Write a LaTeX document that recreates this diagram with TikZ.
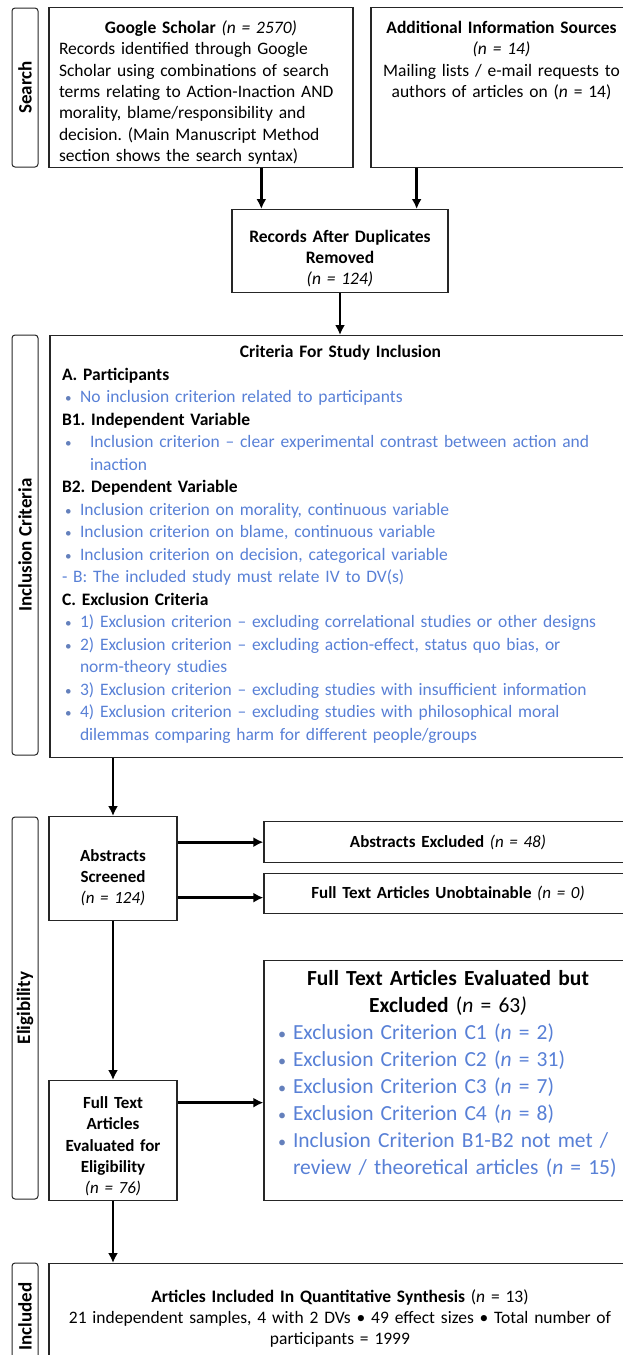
\documentclass[tikz,border=0pt]{standalone}
\usepackage{fontspec}
\setmainfont{Carlito}
\usepackage{tikz}
\usetikzlibrary{arrows.meta,positioning,calc}
\definecolor{critblue}{RGB}{88,128,214}
\newcommand{\bul}[1][18pt]{\makebox[#1][l]{\hspace{3pt}\textcolor{critblue!70!gray}{\scalebox{0.75}{\textbullet}}}}
\frenchspacing

\begin{document}
\begin{tikzpicture}[x=1pt, y=-1pt, >={Latex[length=10pt,width=10pt]},
	box/.style={draw=black!85, line width=1.3pt, anchor=north, inner ysep=0pt},
	stage/.style={draw=black!85, line width=1pt, rounded corners=3pt, rotate=90, minimum height=26pt, inner sep=0pt, font=\fontsize{19}{19}\selectfont\bfseries},
	flow/.style={->, line width=2.7pt}]
	\useasboundingbox (0,0) rectangle (623,1355);
	\clip (0,0) rectangle (623,1355);
	\node[stage, minimum width=159pt] (lsearch) at (25,87.5) {Search};
	\node[stage, minimum width=420pt] (lincl) at (25,545) {Inclusion Criteria};
	\node[stage, minimum width=382pt] (lelig) at (25,1008) {Eligibility};
	\node[stage, minimum width=107pt] (linc) at (25,1316.5) {Included};
	\node[box, text width=284pt, inner xsep=10pt, text height=26pt, text depth=134pt, align=left, font=\fontsize{17.5}{21.3}\selectfont] (gs) at (201,7) {{\centering\textbf{Google Scholar} \textit{(n = 2570)}\par}Records identified through Google\\Scholar using combinations of search\\terms relating to Action-Inaction AND\\morality, blame/responsibility and\\decision. (Main Manuscript Method\\section shows the search syntax)};
	\node[box, text width=241pt, inner xsep=10pt, text height=26pt, text depth=134pt, align=center, font=\fontsize{17.5}{21.3}\selectfont] (ais) at (501.5,7) {\textbf{Additional Information Sources}\\\textit{(n = 14)}\\Mailing lists / e-mail requests to\\authors of articles on (\textit{n} = 14)};
	\node[box, text width=206pt, inner xsep=5pt, text height=33pt, text depth=50pt, align=center, font=\fontsize{17.5}{21}\selectfont\bfseries] (rec) at (340,209) {Records After Duplicates\\Removed\\\mdseries\textit{(n = 124)}};
	\node[box, text width=557pt, inner xsep=12pt, text height=22pt, text depth=400pt, align=left, font=\fontsize{17.5}{22.5}\selectfont] (crit) at (340.5,335) {{\centering\textbf{Criteria For Study Inclusion}\par}
		\textbf{A. Participants}\\
		\textcolor{critblue}{\bul No inclusion criterion related to participants}\\
		\textbf{B1. Independent Variable}\\
		\textcolor{critblue}{\bul[28pt]Inclusion criterion -- clear experimental contrast between action and}\\
		\textcolor{critblue}{\hspace*{28pt}inaction}\\
		\textbf{B2. Dependent Variable}\\
		\textcolor{critblue}{\bul Inclusion criterion on morality, continuous variable}\\
		\textcolor{critblue}{\bul Inclusion criterion on blame, continuous variable}\\
		\textcolor{critblue}{\bul Inclusion criterion on decision, categorical variable}\\
		\textcolor{critblue}{- B: The included study must relate IV to DV(s)}\\
		\textbf{C. Exclusion Criteria}\\
		\textcolor{critblue}{\bul 1) Exclusion criterion -- excluding correlational studies or other designs}\\
		\textcolor{critblue}{\bul 2) Exclusion criterion -- excluding action-effect, status quo bias, or}\\
		\textcolor{critblue}{\hspace*{18pt}norm-theory studies}\\
		\textcolor{critblue}{\bul 3) Exclusion criterion -- excluding studies with insufficient information}\\
		\textcolor{critblue}{\bul 4) Exclusion criterion -- excluding studies with philosophical moral}\\
		\textcolor{critblue}{\hspace*{18pt}dilemmas comparing harm for different people/groups}};
	\node[box, text width=118pt, inner xsep=5pt, text height=45pt, text depth=59pt, align=center, font=\fontsize{17}{21}\selectfont\bfseries] (abs) at (113,816) {Abstracts\\Screened\\\mdseries\textit{(n = 124)}};
	\node[box, text width=348pt, inner xsep=10pt, text height=25.5pt, text depth=15.5pt, align=center, font=\fontsize{17}{21}\selectfont] (absx) at (448,821) {\textbf{Abstracts Excluded} \textit{(n = 48)}};
	\node[box, text width=348pt, inner xsep=10pt, text height=25pt, text depth=15pt, align=center, font=\fontsize{17}{21}\selectfont] (unob) at (448,873) {\textbf{Full Text Articles Unobtainable} \textit{(n = 0)}};
	\node[box, text width=118pt, inner xsep=5pt, text height=28pt, text depth=92pt, align=center, font=\fontsize{17}{21.2}\selectfont\bfseries] (ft) at (113,1080) {Full Text\\Articles\\Evaluated for\\Eligibility\\\mdseries\textit{(n = 76)}};
	\node[box, text width=346pt, inner xsep=11pt, text height=25pt, text depth=215pt, align=left, font=\fontsize{21.5}{27}\selectfont] (ftx) at (448,960) {{\centering\textbf{Full Text Articles Evaluated but}\\\textbf{Excluded} (\textit{n} = 63\textit{)}\par}
		\textcolor{critblue}{\bul Exclusion Criterion C1 (\textit{n} = 2)}\\
		\textcolor{critblue}{\bul Exclusion Criterion C2 (\textit{n} = 31)}\\
		\textcolor{critblue}{\bul Exclusion Criterion C3 (\textit{n} = 7)}\\
		\textcolor{critblue}{\bul Exclusion Criterion C4 (\textit{n} = 8)}\\
		\textcolor{critblue}{\bul Inclusion Criterion B1-B2 not met /}\\
		\textcolor{critblue}{\hspace*{18pt}review / theoretical articles (\textit{n} = 15)}};
	\node[box, text width=560pt, inner xsep=11pt, text height=39pt, text depth=68pt, align=center, font=\fontsize{17.5}{21}\selectfont] (inc) at (340,1263) {\textbf{Articles Included In Quantitative Synthesis} (\textit{n} = 13)\\21 independent samples, 4 with 2 DVs \textbullet{} 49 effect sizes \textbullet{} Total number of\\participants = 1999};
	\draw[flow] ([xshift=30pt]rec.north west |- gs.south) -- ([xshift=30pt]rec.north west);
	\draw[flow] ([xshift=-32pt]rec.north east |- ais.south) -- ([xshift=-32pt]rec.north east);
	\draw[flow] (rec.south) -- (rec.south |- crit.north);
	\draw[flow] (abs.north |- crit.south) -- (abs.north);
	\draw[flow] (abs.east |- absx.west) -- (absx.west);
	\draw[flow] ([yshift=-4pt]abs.east |- unob.west) -- ([yshift=-4pt]unob.west);
	\draw[flow] (abs) -- (ft);
	\draw[flow] ([yshift=-22pt]ft.east |- ftx.west) -- ([yshift=-22pt]ftx.west);
	\draw[flow] (ft.south) -- (ft.south |- inc.north);
\end{tikzpicture}
\end{document}
